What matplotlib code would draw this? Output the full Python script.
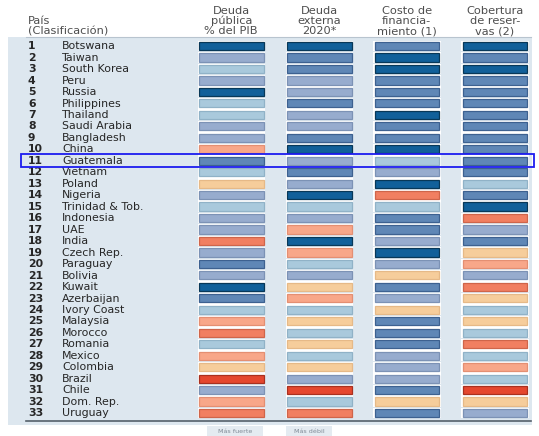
import matplotlib
matplotlib.use("Agg")
import matplotlib.pyplot as plt
from matplotlib.patches import Rectangle

# Country ranking
countries = ["Botswana", "Taiwan", "South Korea", "Peru", "Russia", "Philippines",
             "Thailand", "Saudi Arabia", "Bangladesh", "China", "Guatemala", "Vietnam",
             "Poland", "Nigeria", "Trinidad & Tob.", "Indonesia", "UAE", "India",
             "Czech Rep.", "Paraguay", "Bolivia", "Kuwait", "Azerbaijan", "Ivory Coast",
             "Malaysia", "Morocco", "Romania", "Mexico", "Colombia", "Brazil", "Chile",
             "Dom. Rep.", "Uruguay"]
ranks = list(range(1, len(countries) + 1))

column_titles = ["Deuda\npública\n% del PIB", "Deuda\nexterna\n2020*",
                 "Costo de\nfinancia-\nmiento (1)", "Cobertura\nde reser-\nvas (2)"]

# Rating per indicator: 1 = strongest ... 8 = weakest
deuda_publica = [1, 3, 4, 3, 1, 4, 4, 3, 3, 6, 2, 4, 5, 3, 4, 3, 3, 7, 3, 2, 3, 1,
                 2, 4, 6, 7, 4, 6, 5, 8, 3, 6, 7]
deuda_externa = [1, 2, 2, 3, 3, 2, 3, 3, 2, 1, 3, 2, 3, 1, 4, 3, 6, 1, 6, 4, 3, 5,
                 6, 4, 5, 4, 5, 4, 5, 3, 8, 4, 7]
costo_financiamiento = [2, 1, 1, 2, 2, 2, 1, 2, 2, 1, 4, 3, 1, 7, 4, 2, 2, 3, 1, 3,
                        5, 2, 3, 5, 2, 2, 2, 3, 3, 3, 2, 5, 2]
cobertura_reservas = [1, 2, 1, 2, 2, 2, 2, 2, 2, 2, 2, 2, 4, 2, 1, 7, 3, 2, 5, 6,
                      3, 7, 5, 4, 5, 4, 7, 4, 6, 4, 8, 5, 3]
indicators = [deuda_publica, deuda_externa, costo_financiamiento, cobertura_reservas]

highlight = "Guatemala"
legend_labels = ["Más fuerte", "Más débil"]

fill = {1: "#11609a", 2: "#5f87b6", 3: "#97acce", 4: "#a9c9dc",
        5: "#f6cd9b", 6: "#f8a789", 7: "#f17f61", 8: "#e5472e"}
edge = {1: "#083858", 2: "#3d6190", 3: "#7c92b5", 4: "#90b2c7",
        5: "#e6b987", 6: "#e48f72", 7: "#cf654a", 8: "#a9301f"}

W, H = 539, 436
fig = plt.figure(figsize=(W / 100, H / 100), dpi=100)
ax = fig.add_axes([0, 0, 1, 1])
ax.set_xlim(0, W)
ax.set_ylim(H, 0)
ax.axis("off")

font = "DejaVu Sans"
top, step = 46.0, 11.47
bar_h, bar_w = 8.2, 64.5
col_left = [199, 287, 374.5, 462.5]

# panel background
ax.add_patch(Rectangle((8, 37), 524, 388, facecolor="#dde7ef", edgecolor="none", zorder=0))
ax.plot([26, 531], [37.5, 37.5], color="#b8c4cf", lw=0.8, zorder=1)
ax.plot([26, 531], [421, 421], color="#55606a", lw=1.2, zorder=1)

row_y = [top + (r - 1) * step for r in ranks]

for j, vals in enumerate(indicators):
    # white halo behind the bars
    ax.barh(row_y, bar_w + 3, left=col_left[j] - 1.5, height=bar_h + 2.6,
            color="white", edgecolor="none", zorder=2)
    ax.barh(row_y, bar_w, left=col_left[j], height=bar_h,
            color=[fill[v] for v in vals], edgecolor=[edge[v] for v in vals],
            linewidth=0.9, zorder=3)
    cx = col_left[j] + bar_w / 2
    ax.text(cx, 34.0, column_titles[j], ha="center", va="baseline", fontsize=8.2,
            family=font, color="#4e4e4e", linespacing=0.98)

ax.text(28, 23.5, "País", ha="left", va="baseline", fontsize=8.2, family=font, color="#4e4e4e")
ax.text(28, 34.0, "(Clasificación)", ha="left", va="baseline", fontsize=8.2,
        family=font, color="#4e4e4e")

for r, name, y in zip(ranks, countries, row_y):
    ax.text(28, y + 3.2, str(r), ha="left", va="baseline", fontsize=7.8, family=font,
            color="#262626", fontweight="bold")
    ax.text(62, y + 3.2, name, ha="left", va="baseline", fontsize=7.9, family=font,
            color="#262626")

hi = countries.index(highlight)
hy = row_y[hi]
ax.add_patch(Rectangle((21, hy - 6.8), 513, 13.6, facecolor="none",
                       edgecolor="#1c1cf0", linewidth=1.3, zorder=5))

# legend boxes
for x0, w, label in [(207, 56, legend_labels[0]), (286, 46, legend_labels[1])]:
    ax.add_patch(Rectangle((x0, 426), w, 10, facecolor="#e4ebf1", edgecolor="none", zorder=1))
    ax.text(x0 + w / 2, 431.5, label, ha="center", va="center", fontsize=4.6,
            family=font, color="#7f8a96", zorder=2)

fig.savefig("out.png", dpi=100, facecolor="white")
